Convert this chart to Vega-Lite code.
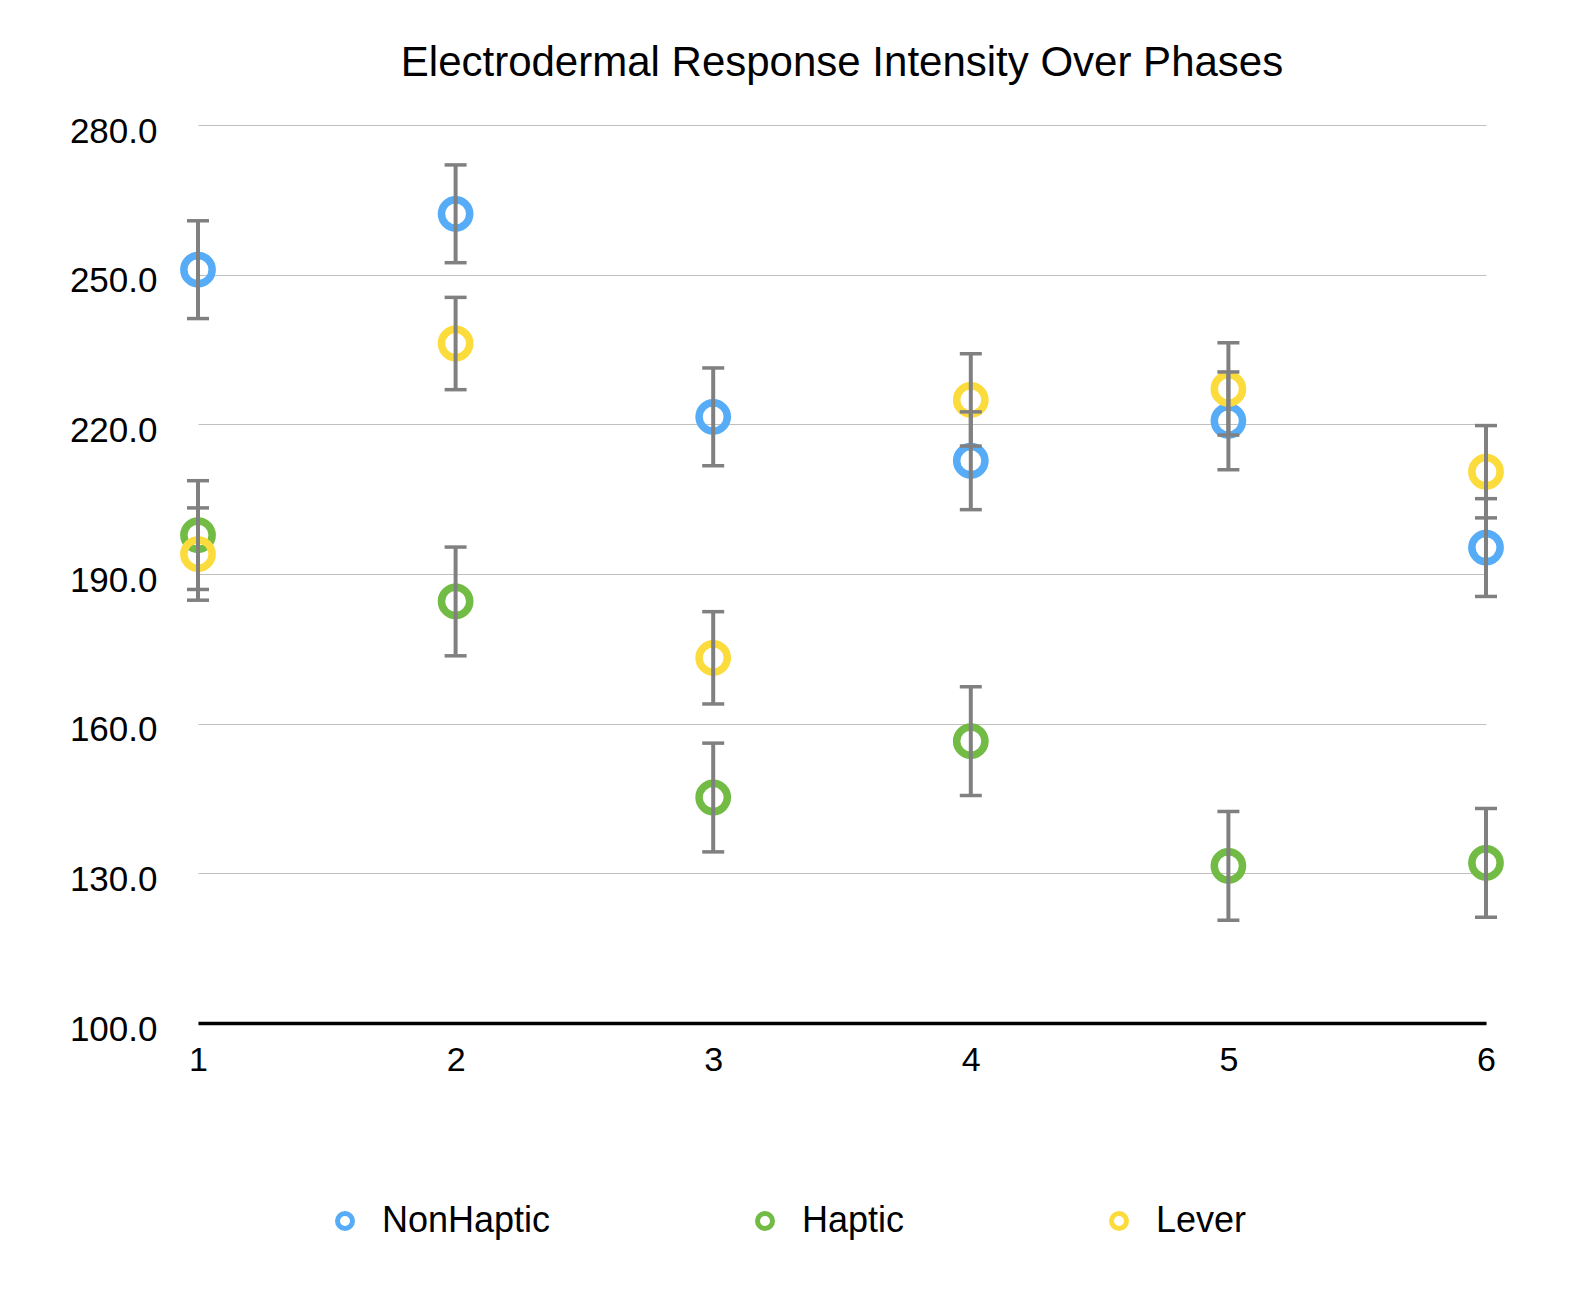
{
  "$schema": "https://vega.github.io/schema/vega-lite/v6.json",
  "width": 1288,
  "height": 898,
  "autosize": {"type": "none"},
  "padding": {"left": 198, "top": 125, "right": 110, "bottom": 289},
  "background": "#ffffff",
  "title": {
    "text": "Electrodermal Response Intensity Over Phases",
    "font": "Liberation Sans",
    "fontSize": 42,
    "fontWeight": "normal",
    "color": "#000000",
    "anchor": "middle",
    "baseline": "alphabetic",
    "offset": 58,
    "dy": 62
  },
  "config": {
    "view": {"stroke": null},
    "font": "Liberation Sans"
  },
  "data": {
    "values": [
      {"phase": 1, "series": "NonHaptic", "value": 251.0, "lo": 241.2, "hi": 260.8},
      {"phase": 2, "series": "NonHaptic", "value": 262.2, "lo": 252.4, "hi": 272.0},
      {"phase": 3, "series": "NonHaptic", "value": 221.5, "lo": 211.7, "hi": 231.3},
      {"phase": 4, "series": "NonHaptic", "value": 212.7, "lo": 202.9, "hi": 222.5},
      {"phase": 5, "series": "NonHaptic", "value": 220.7, "lo": 210.9, "hi": 230.5},
      {"phase": 6, "series": "NonHaptic", "value": 195.3, "lo": 185.5, "hi": 205.1},
      {"phase": 1, "series": "Haptic", "value": 197.8, "lo": 186.9, "hi": 208.7},
      {"phase": 2, "series": "Haptic", "value": 184.5, "lo": 173.6, "hi": 195.4},
      {"phase": 3, "series": "Haptic", "value": 145.2, "lo": 134.3, "hi": 156.1},
      {"phase": 4, "series": "Haptic", "value": 156.5, "lo": 145.6, "hi": 167.4},
      {"phase": 5, "series": "Haptic", "value": 131.5, "lo": 120.6, "hi": 142.4},
      {"phase": 6, "series": "Haptic", "value": 132.1, "lo": 121.2, "hi": 143.0},
      {"phase": 1, "series": "Lever", "value": 194.0, "lo": 184.75, "hi": 203.25},
      {"phase": 2, "series": "Lever", "value": 236.2, "lo": 226.95, "hi": 245.45},
      {"phase": 3, "series": "Lever", "value": 173.2, "lo": 163.95, "hi": 182.45},
      {"phase": 4, "series": "Lever", "value": 224.9, "lo": 215.65, "hi": 234.15},
      {"phase": 5, "series": "Lever", "value": 227.1, "lo": 217.85, "hi": 236.35},
      {"phase": 6, "series": "Lever", "value": 210.5, "lo": 201.25, "hi": 219.75}
    ]
  },
  "encoding": {
    "x": {
      "field": "phase",
      "type": "quantitative",
      "scale": {"domain": [1, 6], "nice": false, "zero": false},
      "axis": {
        "values": [1, 2, 3, 4, 5, 6],
        "format": "d",
        "title": null,
        "grid": false,
        "ticks": false,
        "domainColor": "#000000",
        "domainWidth": 3.3,
        "labelFlush": false,
        "labelPadding": 20,
        "labelFontSize": 34,
        "labelColor": "#000000",
        "labelFont": "Liberation Sans"
      }
    }
  },
  "layer": [
    {
      "mark": {"type": "point", "filled": false, "size": 800, "strokeWidth": 7.5, "opacity": 1},
      "encoding": {
        "y": {
          "field": "value",
          "type": "quantitative",
          "scale": {"domain": [100, 280], "nice": false, "zero": false},
          "axis": {
            "values": [100, 130, 160, 190, 220, 250, 280],
            "format": ".1f",
            "title": null,
            "domain": false,
            "ticks": false,
            "labelPadding": 41,
            "labelOffset": 6,
            "labelFontSize": 35,
            "labelColor": "#000000",
            "labelFont": "Liberation Sans",
            "gridColor": "#c0c0c0",
            "gridWidth": 1
          }
        },
        "color": {
          "field": "series",
          "type": "nominal",
          "scale": {"domain": ["NonHaptic", "Haptic", "Lever"], "range": ["#56acf6", "#72bb44", "#fcdb3c"]},
          "legend": {
            "title": null,
            "orient": "none",
            "legendX": 129,
            "legendY": 1078,
            "direction": "horizontal",
            "padding": 0,
            "labelFontSize": 36,
            "labelFont": "Liberation Sans",
            "labelColor": "#000000",
            "labelLimit": 500,
            "symbolType": "circle",
            "symbolSize": 225,
            "symbolStrokeWidth": 5,
            "labelOffset": 19,
            "columnPadding": 196
          }
        }
      }
    },
    {
      "mark": {"type": "rule", "color": "#808080", "strokeWidth": 4},
      "encoding": {
        "y": {"field": "lo", "type": "quantitative"},
        "y2": {"field": "hi"}
      }
    },
    {
      "mark": {"type": "tick", "orient": "horizontal", "color": "#808080", "size": 22, "thickness": 3.5, "opacity": 1},
      "encoding": {
        "y": {"field": "lo", "type": "quantitative"}
      }
    },
    {
      "mark": {"type": "tick", "orient": "horizontal", "color": "#808080", "size": 22, "thickness": 3.5, "opacity": 1},
      "encoding": {
        "y": {"field": "hi", "type": "quantitative"}
      }
    }
  ]
}
